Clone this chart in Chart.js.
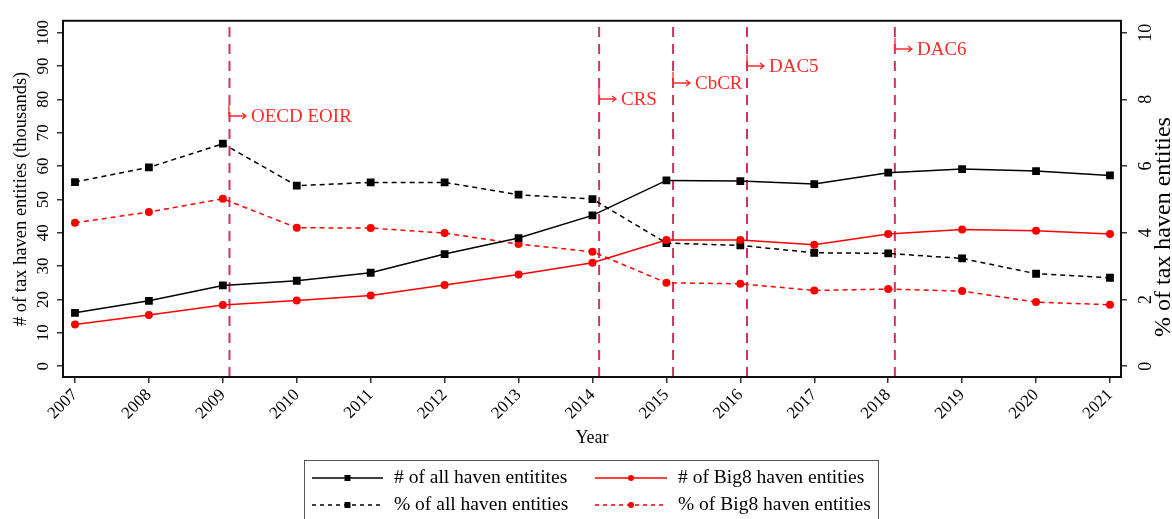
<!DOCTYPE html>
<html>
<head>
<meta charset="utf-8">
<script src="https://cdn.jsdelivr.net/npm/chart.js@4.4.0/dist/chart.umd.min.js"></script>
<style>
  html, body { margin: 0; padding: 0; background: #fff; }
  #chart { display: block; }
</style>
</head>
<body>
<canvas id="chart" width="1172" height="519"></canvas>
<script>
/* ---- data ---- */
const years = [2007, 2008, 2009, 2010, 2011, 2012, 2013, 2014, 2015, 2016, 2017, 2018, 2019, 2020, 2021];
// counts, thousands (left axis)
const allCount  = [16.0, 19.6, 24.2, 25.6, 28.0, 33.6, 38.4, 45.2, 55.7, 55.5, 54.6, 58.0, 59.1, 58.5, 57.2];
const big8Count = [12.5, 15.3, 18.3, 19.7, 21.2, 24.3, 27.5, 31.0, 37.8, 37.8, 36.4, 39.6, 41.0, 40.6, 39.6];
// shares, percent (right axis)
const allShare  = [5.52, 5.96, 6.67, 5.41, 5.51, 5.51, 5.14, 5.01, 3.69, 3.62, 3.40, 3.38, 3.23, 2.77, 2.65];
const big8Share = [4.30, 4.62, 5.02, 4.15, 4.14, 3.99, 3.66, 3.43, 2.50, 2.47, 2.27, 2.31, 2.25, 1.92, 1.84];
// policy events: x position (year) and label height (left-axis units)
const eventYears  = [2009.09, 2014.09, 2015.09, 2016.09, 2018.09];
const eventNames  = ['OECD EOIR', 'CRS', 'CbCR', 'DAC5', 'DAC6'];
const eventLevels = [75, 80, 85, 90, 95];
const seriesNames = ['# of all haven entitites', '# of Big8 haven entities',
                     '% of all haven entities', '% of Big8 haven entities'];

const SERIF = '"Liberation Serif", "Times New Roman", serif';
const RED = '#ff0000';
const CRANBERRY = '#c8375f';
const X_MIN = 2006.838, X_MAX = 2021.149;
const Y_MIN = -3.26, Y_MAX = 103.56;

const toPoints = vals => vals.map((v, i) => ({ x: years[i], y: v }));

// legend look, in the same order as seriesNames
const legendStyle = [
    { color: '#000', dash: [], marker: 'rect' },
    { color: RED, dash: [], marker: 'circle' },
    { color: '#000', dash: [4, 4], marker: 'rect' },
    { color: RED, dash: [4, 4], marker: 'circle' }
];

/* ---- frame, event labels, legend, right title ---- */
const decorations = {
    id: 'decorations',
    afterDatasetsDraw(chart) {
        const { ctx, chartArea: a, scales } = chart;
        ctx.save();
        ctx.strokeStyle = '#111';
        ctx.lineWidth = 2;
        ctx.strokeRect(a.left, a.top, a.right - a.left, a.bottom - a.top);

        ctx.strokeStyle = '#ff2a2a';
        ctx.fillStyle = '#ff2a2a';
        ctx.lineWidth = 1.3;
        ctx.font = '19px ' + SERIF;
        ctx.textBaseline = 'middle';
        eventYears.forEach((yr, i) => {
            const x = Math.round(scales.x.getPixelForValue(yr));
            const y = Math.round(scales.y.getPixelForValue(eventLevels[i]));
            ctx.beginPath();
            ctx.moveTo(x, y - 11);
            ctx.lineTo(x, y);
            ctx.lineTo(x + 17, y);
            ctx.moveTo(x + 13, y - 3);
            ctx.lineTo(x + 17, y);
            ctx.lineTo(x + 13, y + 3);
            ctx.stroke();
            ctx.fillText(eventNames[i], x + 22, y + 1);
        });
        ctx.restore();
    },
    afterDraw(chart) {
        const ctx = chart.ctx;
        ctx.save();
        // right axis title, reading bottom to top like the left one
        ctx.translate(1164, 227);
        ctx.rotate(-Math.PI / 2);
        ctx.fillStyle = '#000';
        ctx.font = '24px ' + SERIF;
        ctx.textAlign = 'center';
        ctx.textBaseline = 'middle';
        ctx.fillText('% of tax haven entities', 0, 0);
        ctx.restore();

        // legend box
        ctx.save();
        ctx.strokeStyle = '#555';
        ctx.lineWidth = 1;
        ctx.strokeRect(304.5, 460.5, 574, 80);
        const rows = [478, 505];
        const cols = [{ x0: 312, x1: 383, tx: 394 }, { x0: 595, x1: 667, tx: 678 }];
        const order = [[0, 1], [2, 3]];
        ctx.font = '19.5px ' + SERIF;
        ctx.textBaseline = 'middle';
        order.forEach((row, r) => {
            row.forEach((idx, c) => {
                const s = legendStyle[idx], col = cols[c], y = rows[r];
                ctx.strokeStyle = s.color;
                ctx.fillStyle = s.color;
                ctx.lineWidth = 1.5;
                ctx.setLineDash(s.dash);
                ctx.beginPath();
                ctx.moveTo(col.x0, y);
                ctx.lineTo(col.x1, y);
                ctx.stroke();
                ctx.setLineDash([]);
                const mx = (col.x0 + col.x1) / 2;
                if (s.marker === 'rect') {
                    ctx.fillRect(mx - 3, y - 3, 6, 6);
                } else {
                    ctx.beginPath();
                    ctx.arc(mx, y, 3, 0, Math.PI * 2);
                    ctx.fill();
                }
                ctx.fillStyle = '#000';
                ctx.fillText(seriesNames[idx], col.tx, y);
            });
        });
        ctx.restore();
    }
};

const eventDatasets = eventYears.map(yr => ({
    label: 'event',
    data: [{ x: yr, y: Y_MIN }, { x: yr, y: Y_MAX }],
    yAxisID: 'y',
    borderColor: CRANBERRY,
    borderWidth: 2,
    borderDash: [10, 7],
    pointRadius: 0
}));

const tickFont = { family: SERIF, size: 17 };
const tickMarks = { drawOnChartArea: false, drawTicks: true, tickLength: 6, color: '#333', lineWidth: 1.5 };

new Chart(document.getElementById('chart'), {
    type: 'line',
    data: {
        datasets: [
            {
                label: seriesNames[0], data: toPoints(allCount), yAxisID: 'y',
                borderColor: '#000', borderWidth: 1.5,
                pointStyle: 'rect', pointRadius: 5.5, pointBackgroundColor: '#000', pointBorderWidth: 0
            },
            {
                label: seriesNames[1], data: toPoints(big8Count), yAxisID: 'y',
                borderColor: RED, borderWidth: 1.5,
                pointStyle: 'circle', pointRadius: 4, pointBackgroundColor: RED, pointBorderWidth: 0
            },
            {
                label: seriesNames[2], data: toPoints(allShare), yAxisID: 'y1',
                borderColor: '#000', borderWidth: 1.5, borderDash: [5, 4],
                pointStyle: 'rect', pointRadius: 5.5, pointBackgroundColor: '#000', pointBorderWidth: 0
            },
            {
                label: seriesNames[3], data: toPoints(big8Share), yAxisID: 'y1',
                borderColor: RED, borderWidth: 1.5, borderDash: [5, 4],
                pointStyle: 'circle', pointRadius: 4, pointBackgroundColor: RED, pointBorderWidth: 0
            },
            ...eventDatasets
        ]
    },
    options: {
        responsive: false,
        animation: false,
        events: [],
        layout: { padding: { top: 17, bottom: 69, left: 0, right: 0 } },
        plugins: {
            legend: { display: false },
            tooltip: { enabled: false }
        },
        scales: {
            x: {
                type: 'linear',
                min: X_MIN,
                max: X_MAX,
                border: { display: false },
                grid: tickMarks,
                ticks: {
                    stepSize: 1, includeBounds: false, maxTicksLimit: 30, autoSkip: false,
                    minRotation: 45, maxRotation: 45, padding: 2,
                    color: '#000', font: tickFont,
                    callback: v => String(v)
                },
                title: {
                    display: true, text: 'Year', color: '#000',
                    font: { family: SERIF, size: 18 }, padding: { top: 0, bottom: 1 }
                },
                afterFit: s => { s.height = 73; }
            },
            y: {
                position: 'left',
                min: Y_MIN,
                max: Y_MAX,
                border: { display: false },
                grid: tickMarks,
                ticks: {
                    stepSize: 10, includeBounds: false, maxTicksLimit: 30,
                    minRotation: 90, maxRotation: 90, crossAlign: 'center', padding: 1,
                    color: '#000', font: tickFont,
                    callback: v => String(v)
                },
                title: {
                    display: true, text: '# of tax haven entities (thousands)', color: '#000',
                    font: { family: SERIF, size: 18.5 }, padding: { top: 10, bottom: 0 }
                },
                afterFit: s => { s.width = 63; }
            },
            y1: {
                position: 'right',
                min: Y_MIN / 10,
                max: Y_MAX / 10,
                border: { display: false },
                grid: tickMarks,
                ticks: {
                    stepSize: 2, includeBounds: false, maxTicksLimit: 30,
                    minRotation: 90, maxRotation: 90, crossAlign: 'center', padding: 10,
                    color: '#000', font: { family: SERIF, size: 18 },
                    callback: v => String(v)
                },
                afterFit: s => { s.width = 51; }
            }
        }
    },
    plugins: [decorations]
});
</script>
</body>
</html>
